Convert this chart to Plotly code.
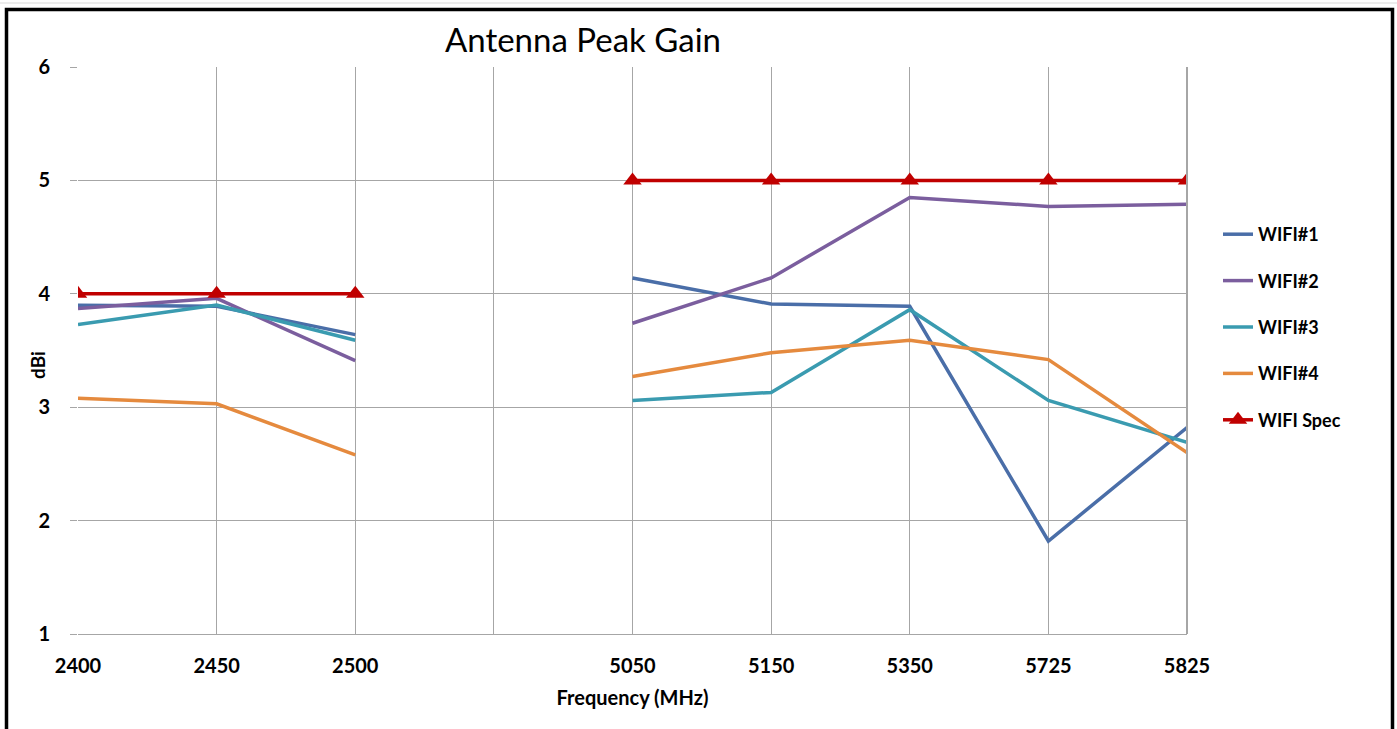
import plotly.graph_objects as go

categories = ["2400", "2450", "2500", " ", "5050", "5150", "5350", "5725", "5825"]
wifi1 = [3.90, 3.89, 3.64, None, 4.14, 3.91, 3.89, 1.82, 2.82]
wifi2 = [3.87, 3.96, 3.41, None, 3.74, 4.14, 4.85, 4.77, 4.79]
wifi3 = [3.73, 3.90, 3.59, None, 3.06, 3.13, 3.86, 3.06, 2.69]
wifi4 = [3.08, 3.03, 2.58, None, 3.27, 3.48, 3.59, 3.42, 2.60]
spec = [4, 4, 4, None, 5, 5, 5, 5, 5]
y_ticks = [1, 2, 3, 4, 5, 6]

series = [
    ("WIFI#1", wifi1, "#4A6EA8"),
    ("WIFI#2", wifi2, "#7B5E9E"),
    ("WIFI#3", wifi3, "#3A9BB0"),
    ("WIFI#4", wifi4, "#E58A3E"),
]

FONT = "Lato"
fig = go.Figure()
for i, (name, vals, col) in enumerate(series):
    fig.add_trace(go.Scatter(
        x=categories, y=vals, name=name, mode="lines",
        line=dict(color=col, width=3.5), connectgaps=False,
        legendgroup=f"g{i}",
    ))
fig.add_trace(go.Scatter(
    x=categories, y=spec, name="WIFI Spec", mode="lines+markers",
    line=dict(color="#C00000", width=3.5),
    marker=dict(symbol="triangle-up", size=16, color="#C00000"),
    connectgaps=False, legendgroup="g4",
))

W, H = 1397, 729
L, R, T, B = 78, 210, 67, 95
pw, ph = W - L - R, H - T - B

def px(x):
    return (x - L) / pw

def py(y):
    return (H - B - y) / ph

fig.update_layout(
    width=W, height=H,
    margin=dict(l=L, r=R, t=T, b=B),
    paper_bgcolor="white", plot_bgcolor="white",
    font=dict(family=FONT, color="#000000"),
    title=dict(text="Antenna Peak Gain", x=583 / W, xanchor="center",
               y=1 - 40 / H, yanchor="middle",
               font=dict(family=FONT, size=33, color="#000000")),
    xaxis=dict(
        type="category", categoryorder="array", categoryarray=categories,
        range=[0, len(categories) - 1],
        showgrid=True, gridcolor="#A6A6A6", gridwidth=1,
        showline=True, linecolor="#A6A6A6", linewidth=1, mirror=False,
        ticks="", tickfont=dict(family=FONT, size=20, color="#000000", weight="bold"),
        ticklabelstandoff=14,
        title=dict(text="Frequency (MHz)", standoff=14,
                   font=dict(family=FONT, size=20, color="#000000", weight="bold")),
        zeroline=False,
    ),
    yaxis=dict(
        range=[1, 6], tickvals=y_ticks,
        showgrid=True, gridcolor="#A6A6A6", gridwidth=1,
        showline=False, ticks="outside", ticklen=7, tickcolor="#A6A6A6",
        tickfont=dict(family=FONT, size=20, color="#000000", weight="bold"),
        ticklabelstandoff=16,
        zeroline=False,
    ),
    annotations=[
        dict(text="dBi", xref="paper", yref="paper", x=px(37), y=py(365),
             xanchor="center", yanchor="middle", textangle=-90, showarrow=False,
             font=dict(family=FONT, size=19, color="#000000", weight="bold")),
    ],
    showlegend=True,
    legend=dict(
        x=px(1218), y=py(216), xanchor="left", yanchor="top",
        font=dict(family=FONT, size=18, color="#000000", weight="bold"),
        tracegroupgap=20, traceorder="grouped",
        bgcolor="rgba(0,0,0,0)",
    ),
    shapes=[
        dict(type="line", xref="paper", yref="paper", x0=1, x1=1, y0=0, y1=1,
             line=dict(color="#A6A6A6", width=2)),
        dict(type="rect", xref="paper", yref="paper",
             x0=px(6.5), x1=px(1392.5), y0=py(9.5), y1=py(745),
             line=dict(color="#000000", width=3.5)),
        dict(type="line", xref="paper", yref="paper",
             x0=px(0), x1=px(1397), y0=py(3), y1=py(3),
             line=dict(color="#D9D9D9", width=1)),
    ],
)

fig.write_html(
    "out.html",
    config={"displayModeBar": False},
    post_script="document.body.style.margin='0';document.body.style.overflow='hidden';",
)
